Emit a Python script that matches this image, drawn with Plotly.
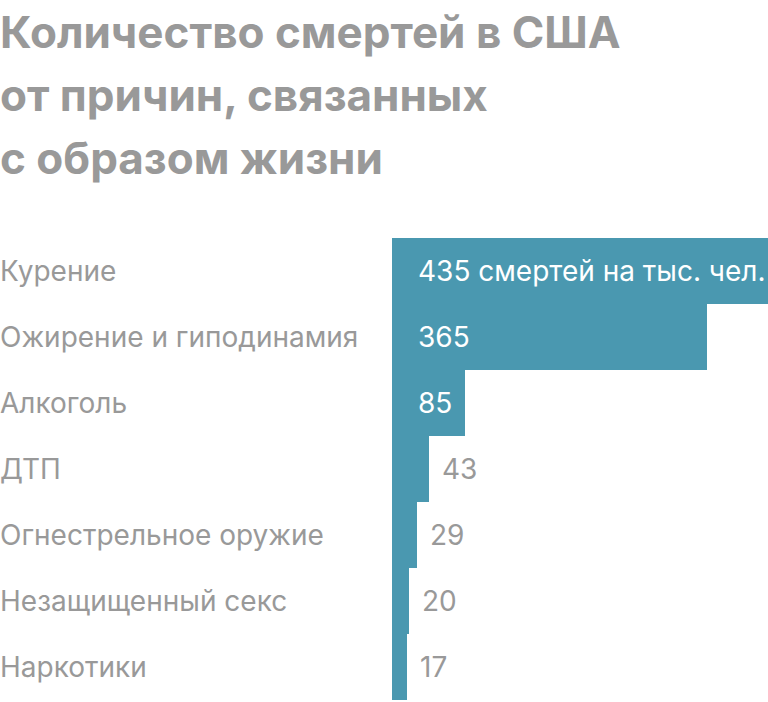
import plotly.graph_objects as go

categories = ["Курение", "Ожирение и гиподинамия", "Алкоголь", "ДТП",
              "Огнестрельное оружие", "Незащищенный секс", "Наркотики"]
values = [435, 365, 85, 43, 29, 20, 17]
value_labels = ["435 смертей на тыс. чел.", "365", "85", "43", "29", "20", "17"]
inside_flags = [True, True, True, False, False, False, False]
title_lines = ["Количество смертей в США", "от причин, связанных", "с образом жизни"]

W, H = 768, 702
BAR = "#4a98b0"
GRAY = "#999999"
FONT = "Inter"
TFONT = "Inter"

fig = go.Figure(go.Bar(
    x=values, y=categories, orientation="h",
    marker=dict(color=BAR, line=dict(width=0)),
    hoverinfo="skip",
))

ann = []
for cat in categories:
    ann.append(dict(x=0, xref="paper", y=cat, yref="y", text=cat, showarrow=False,
                    xanchor="left", yanchor="middle", xshift=-2,
                    font=dict(family=FONT, size=28, color=GRAY, weight=400)))
for cat, v, lab, inside in zip(categories, values, value_labels, inside_flags):
    if inside:
        ann.append(dict(x=0, y=cat, xref="x", yref="y", text=lab, showarrow=False,
                        xanchor="left", yanchor="middle", xshift=24,
                        font=dict(family=FONT, size=28, color="white", weight=400)))
    else:
        ann.append(dict(x=v, y=cat, xref="x", yref="y", text=lab, showarrow=False,
                        xanchor="left", yanchor="middle", xshift=11,
                        font=dict(family=FONT, size=28, color=GRAY, weight=400)))
title_y = [32, 95, 158]
for line, yc in zip(title_lines, title_y):
    ann.append(dict(x=0, xref="paper", y=1 - yc / H, yref="paper", text=line,
                    showarrow=False, xanchor="left", yanchor="middle", xshift=-2,
                    font=dict(family=TFONT, size=44, color="#999999", weight=700)))

fig.update_layout(
    width=W, height=H,
    margin=dict(l=0, r=0, t=0, b=0),
    paper_bgcolor="white", plot_bgcolor="white",
    bargap=0,
    showlegend=False,
    xaxis=dict(domain=[392 / W, 1], range=[0, 435], visible=False, fixedrange=True),
    yaxis=dict(domain=[(H - 700) / H, (H - 238) / H], autorange="reversed",
               visible=False, fixedrange=True),
    annotations=ann,
)

fig.write_html("out.html", config={"displayModeBar": False},
               post_script="document.body.style.margin='0';document.body.style.overflow='hidden';")
